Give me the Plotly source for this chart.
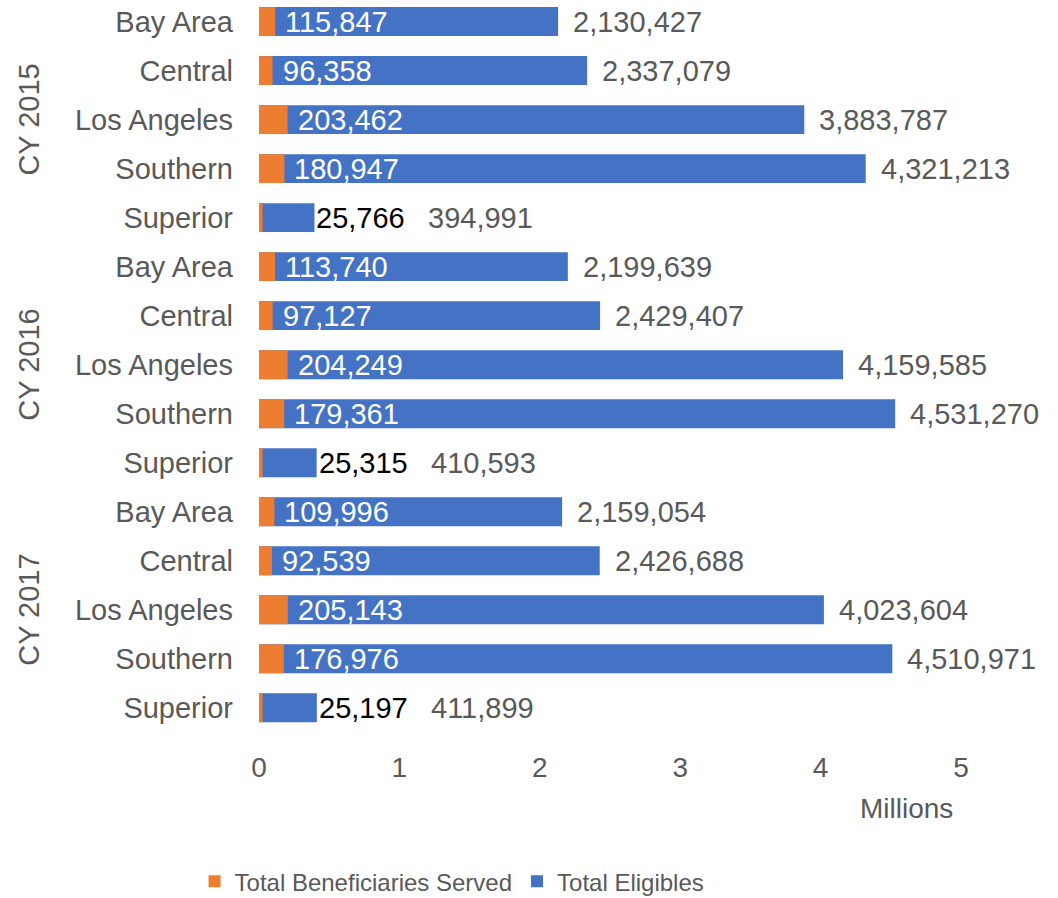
import plotly.graph_objects as go

# Medi-Cal dental utilisation by region and calendar year
years = ["CY 2015", "CY 2016", "CY 2017"]
regions = ["Bay Area", "Central", "Los Angeles", "Southern", "Superior"]

served_2015 = [115847, 96358, 203462, 180947, 25766]
served_2016 = [113740, 97127, 204249, 179361, 25315]
served_2017 = [109996, 92539, 205143, 176976, 25197]

eligibles_2015 = [2130427, 2337079, 3883787, 4321213, 394991]
eligibles_2016 = [2199639, 2429407, 4159585, 4531270, 410593]
eligibles_2017 = [2159054, 2426688, 4023604, 4510971, 411899]

x_tick_values = [0, 1000000, 2000000, 3000000, 4000000, 5000000]
x_tick_labels = ["0", "1", "2", "3", "4", "5"]

ORANGE = "#ED7D31"
BLUE = "#4472C4"
GREY = "#595959"
FONT = "Liberation Sans, Arial, sans-serif"
SIZE = 29

served = served_2015 + served_2016 + served_2017
eligibles = eligibles_2015 + eligibles_2016 + eligibles_2017
labels = regions * len(years)
rows = list(range(len(labels)))

fig = go.Figure()
# Eligibles bar is the full length; served is overlaid from the base
fig.add_trace(go.Bar(
    y=rows, x=eligibles, orientation="h", name="Total Eligibles",
    marker=dict(color=BLUE, line=dict(width=0)), legendrank=2,
    hoverinfo="skip",
))
fig.add_trace(go.Bar(
    y=rows, x=served, orientation="h", name="Total Beneficiaries Served",
    marker=dict(color=ORANGE, line=dict(width=0)), legendrank=1,
    hoverinfo="skip",
))

annotations = []
for r, s, e in zip(rows, served, eligibles):
    fits_inside = e >= 1000000
    if fits_inside:
        annotations.append(dict(
            x=s, y=r, xref="x", yref="y", text=f"{s:,}", showarrow=False,
            xanchor="left", yanchor="middle", xshift=8,
            font=dict(family=FONT, size=SIZE, color="white"),
        ))
        e_shift = 13
    else:
        annotations.append(dict(
            x=e, y=r, xref="x", yref="y", text=f"{s:,}", showarrow=False,
            xanchor="left", yanchor="middle", xshift=0,
            font=dict(family=FONT, size=SIZE, color="black"),
        ))
        e_shift = 112
    annotations.append(dict(
        x=e, y=r, xref="x", yref="y", text=f"{e:,}", showarrow=False,
        xanchor="left", yanchor="middle", xshift=e_shift,
        font=dict(family=FONT, size=SIZE, color=GREY),
    ))

# Year group labels beside the region names
for i, yr in enumerate(years):
    center = i * len(regions) + (len(regions) - 1) / 2
    annotations.append(dict(
        x=0, y=center, xref="paper", yref="y", text=yr, showarrow=False,
        textangle=-90, xanchor="center", yanchor="middle", xshift=-230,
        font=dict(family=FONT, size=SIZE, color=GREY),
    ))

annotations.append(dict(
    x=5000000, y=0, xref="x", yref="paper", text="Millions", showarrow=False,
    xanchor="right", yanchor="middle", xshift=-6, yshift=-62,
    font=dict(family=FONT, size=SIZE - 1, color=GREY),
))

fig.update_layout(
    width=1058, height=898,
    margin=dict(l=259, r=97, t=0, b=152, autoexpand=False),
    paper_bgcolor="white", plot_bgcolor="white",
    barmode="overlay", bargap=0.41,
    font=dict(family=FONT, size=SIZE, color=GREY),
    showlegend=True,
    legend=dict(
        orientation="h", x=0.275, xanchor="center", y=-0.182, yanchor="middle",
        font=dict(family=FONT, size=24, color=GREY),
        itemwidth=30, tracegroupgap=0,
    ),
    annotations=annotations,
)

fig.update_xaxes(
    range=[0, 5000000], tickvals=x_tick_values, ticktext=x_tick_labels,
    showgrid=False, zeroline=False, showline=False, ticks="",
    ticklabelstandoff=2,
    tickfont=dict(family=FONT, size=SIZE - 1, color=GREY),
)
fig.update_yaxes(
    range=[14.78, -0.44], tickvals=rows, ticktext=labels,
    showgrid=False, zeroline=False, showline=False, ticks="",
    ticklabelstandoff=25,
    tickfont=dict(family=FONT, size=SIZE, color=GREY),
)

fig.write_html("out.html")
